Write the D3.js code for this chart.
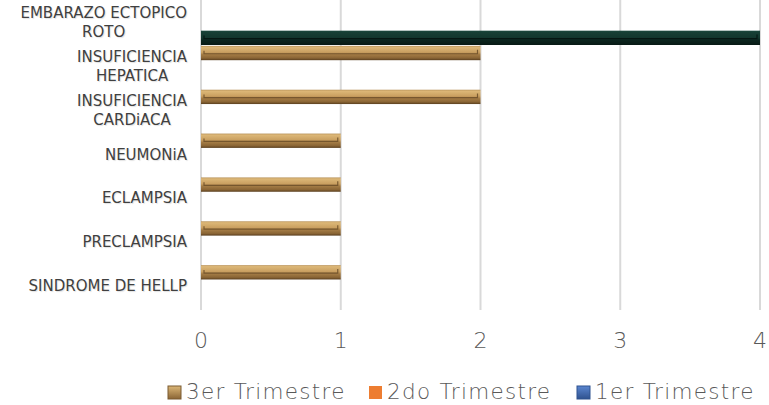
<!DOCTYPE html>
<html>
<head>
<meta charset="utf-8">
<script src="https://cdn.jsdelivr.net/npm/d3@7"></script>
<style>
  html, body { margin: 0; padding: 0; background: #fff; }
  svg text { font-family: "DejaVu Sans", sans-serif; }
</style>
</head>
<body>
<div id="chart"></div>
<script>
// categories top to bottom
const categories = [
  "EMBARAZO ECTOPICO ROTO",
  "INSUFICIENCIA HEPATICA",
  "INSUFICIENCIA CARDiACA",
  "NEUMONiA",
  "ECLAMPSIA",
  "PRECLAMPSIA",
  "SINDROME DE HELLP"
];
const categoryLines = [
  ["EMBARAZO ECTOPICO", "ROTO"],
  ["INSUFICIENCIA", "HEPATICA"],
  ["INSUFICIENCIA", "CARDiACA"],
  ["NEUMONiA"],
  ["ECLAMPSIA"],
  ["PRECLAMPSIA"],
  ["SINDROME DE HELLP"]
];
const seriesNames = ["3er Trimestre", "2do Trimestre", "1er Trimestre"];
const tercerTrimestre = [0, 2, 2, 1, 1, 1, 1];
const segundoTrimestre = [0, 0, 0, 0, 0, 0, 0];
const primerTrimestre = [4, 0, 0, 0, 0, 0, 0];
const xTicks = [0, 1, 2, 3, 4];

const W = 769, H = 405;
const svg = d3.select("#chart").append("svg")
  .attr("width", W).attr("height", H);

const defs = svg.append("defs");
function grad(id, stops) {
  const g = defs.append("linearGradient").attr("id", id)
    .attr("x1", 0).attr("y1", 0).attr("x2", 0).attr("y2", 1);
  stops.forEach(s => g.append("stop").attr("offset", s[0]).attr("stop-color", s[1]));
}
grad("tan", [[0, "#b8925a"], [0.1, "#dcb777"], [0.45, "#c99f60"], [0.6, "#a47c45"], [0.85, "#8a6535"], [1, "#5a3f1f"]]);
grad("dark", [[0, "#1c4a3e"], [0.1, "#173f35"], [0.5, "#12362d"], [0.65, "#0c261f"], [1, "#081a15"]]);
grad("blue", [[0, "#5b86d0"], [1, "#2f528f"]]);
grad("tanSq", [[0, "#dcb777"], [1, "#8a6535"]]);

const x = d3.scaleLinear().domain([0, 4]).range([201, 760]);
const y = d3.scaleBand().domain(categories).range([2, 309]);
const ySub = d3.scaleBand().domain(seriesNames).range([0, 43]);

const seriesData = [tercerTrimestre, segundoTrimestre, primerTrimestre];
const fills = {
  "3er Trimestre": { fill: "url(#tan)", line: "#6b4d28" },
  "2do Trimestre": { fill: "#ed7d31", line: "#b65e22" },
  "1er Trimestre": { fill: "url(#dark)", line: "#04120e" }
};

// gridlines
svg.append("g").selectAll("line").data(xTicks).join("line")
  .attr("x1", d => x(d)).attr("x2", d => x(d))
  .attr("y1", 0).attr("y2", 310)
  .attr("stroke", "#d9d9d9").attr("stroke-width", 2);

// bars
seriesNames.forEach((s, si) => {
  const vals = seriesData[si];
  const rows = categories.map((c, i) => ({ c, v: vals[i] })).filter(d => d.v > 0);
  const g = svg.append("g");
  const yy = d => y(d.c) + ySub(s);
  const hh = ySub.bandwidth();
  g.selectAll("rect.bar").data(rows).join("rect")
    .attr("class", "bar")
    .attr("x", x(0)).attr("y", yy)
    .attr("width", d => x(d.v) - x(0)).attr("height", hh)
    .attr("fill", fills[s].fill);
  // inner bevel line
  g.selectAll("path.bevel").data(rows).join("path")
    .attr("class", "bevel")
    .attr("d", d => {
      const x0 = x(0) + 3, x1 = x(d.v) - 3, ly = yy(d) + hh * 0.55;
      return `M${x0},${ly - 3}L${x0},${ly}L${x1},${ly}L${x1},${ly - 4}`;
    })
    .attr("fill", "none")
    .attr("stroke", fills[s].line)
    .attr("stroke-width", 1.2)
    .attr("opacity", 0.85);
});

// x tick labels
svg.append("g").selectAll("text").data(xTicks).join("text")
  .attr("x", d => x(d)).attr("y", 348)
  .attr("text-anchor", "middle")
  .attr("font-size", 22).attr("font-weight", 200)
  .attr("fill", "#595959")
  .text(d => d);

// category labels
const labelG = svg.append("g")
  .style("text-shadow", "1px 1px 1px rgba(0,0,0,0.12)");
categories.forEach((c, i) => {
  const lines = categoryLines[i];
  const t = labelG.append("text")
    .attr("font-size", 15)
    .attr("fill", "#404040")
    .attr("text-anchor", "middle");
  const cy = y(c) + y.bandwidth() / 2 - 1.5;
  const lh = 19;
  lines.forEach((ln, li) => {
    t.append("tspan")
      .attr("y", cy + (li - (lines.length - 1) / 2) * lh + 5.5)
      .text(ln);
  });
  let maxW = 0;
  t.selectAll("tspan").each(function () {
    maxW = Math.max(maxW, this.getComputedTextLength());
  });
  t.selectAll("tspan").attr("x", 187 - maxW / 2);
});

// legend
const legendItems = [
  { name: "3er Trimestre", x: 168, fill: "url(#tanSq)", stroke: "#7a5a30" },
  { name: "2do Trimestre", x: 369, fill: "#ed7d31", stroke: "none" },
  { name: "1er Trimestre", x: 577, fill: "url(#blue)", stroke: "#2f528f" }
];
const lg = svg.append("g");
legendItems.forEach(it => {
  lg.append("rect")
    .attr("x", it.x).attr("y", 386).attr("width", 13).attr("height", 13)
    .attr("fill", it.fill).attr("stroke", it.stroke).attr("stroke-width", 1);
  lg.append("text")
    .attr("x", it.x + 18).attr("y", 399)
    .attr("font-size", 21.5).attr("font-weight", 200)
    .attr("letter-spacing", 1.3)
    .attr("fill", "#595959")
    .text(it.name);
});
</script>
</body>
</html>
